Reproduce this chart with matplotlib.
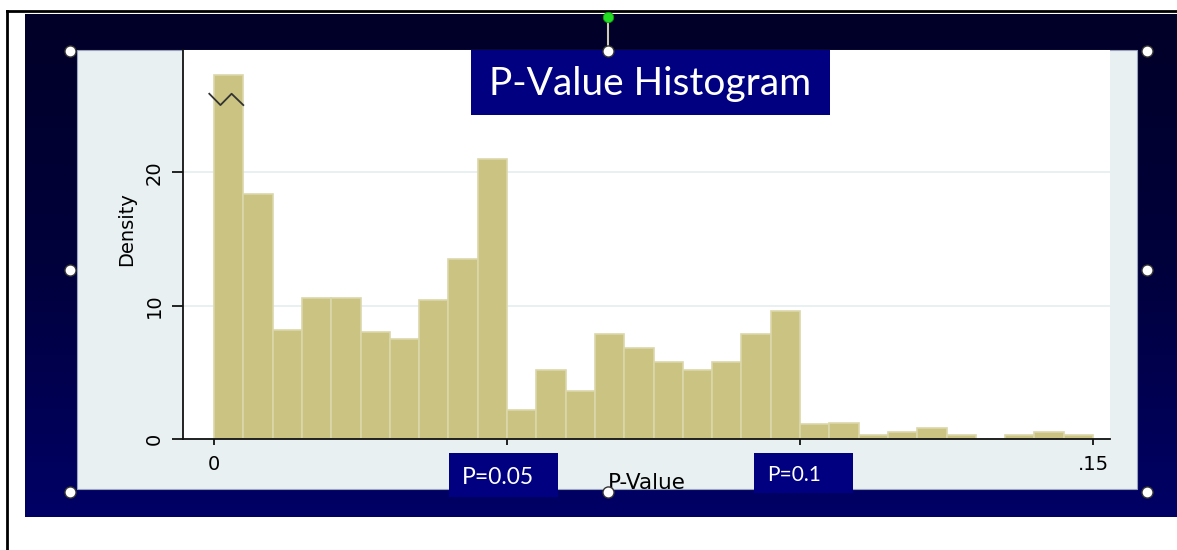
import matplotlib
matplotlib.use("Agg")
import matplotlib.pyplot as plt
import numpy as np
from matplotlib.patches import Rectangle
from matplotlib.colors import LinearSegmentedColormap

W, H = 1177, 550

# histogram of p-values, 30 bins of width .005 from 0 to .15
bin_width = 0.005
bin_left = np.arange(30) * bin_width
density = [27.3, 18.4, 8.2, 10.6, 10.6, 8.0, 7.5, 10.4, 13.5, 21.0,
           2.15, 5.2, 3.6, 7.9, 6.85, 5.8, 5.2, 5.8, 7.9, 9.6,
           1.1, 1.2, 0.27, 0.52, 0.8, 0.27, 0.0, 0.27, 0.52, 0.27]

xticks = [0, 0.05, 0.1, 0.15]
xtick_labels = ["0", "", "", ".15"]   # .05 and .1 sit under the note boxes
yticks = [0, 10, 20]
ytick_labels = ["0", "10", "20"]

# axis-break zigzag drawn over the first bar
break_x = [-0.0008, 0.0011, 0.0030, 0.0050]
break_y = [25.9, 25.05, 25.9, 25.05]

title = "P-Value Histogram"
notes = ["P=0.05", "P=0.1"]

fig = plt.figure(figsize=(W / 100, H / 100), dpi=100)
fig.patch.set_facecolor("white")

# background layer in pixel coordinates
bg = fig.add_axes([0, 0, 1, 1], zorder=0)
bg.set_xlim(0, W)
bg.set_ylim(H, 0)
bg.axis("off")

# slide frame + dark gradient
bg.plot([7, 7], [11, H], color="black", lw=2)
bg.plot([7, W], [11, 11], color="black", lw=2)
grad = np.linspace(0, 1, 256).reshape(-1, 1)
cmap = LinearSegmentedColormap.from_list("slide", ["#000028", "#00003c", "#000066"])
bg.imshow(grad, extent=(25, W, 517, 14), aspect="auto", cmap=cmap, origin="upper")

# stata graph region
bg.add_patch(Rectangle((77, 50), 1060, 439, fc="#e8f0f2", ec="#9aa3bd", lw=0.8))

# plot region
ax_l, ax_r, ax_t, ax_b = 183, 1110, 50, 439
ax = fig.add_axes([ax_l / W, 1 - ax_b / H, (ax_r - ax_l) / W, (ax_b - ax_t) / H], zorder=2)
ax.set_facecolor("white")

ax.bar(bin_left, density, width=bin_width, align="edge",
       color="#cac381", edgecolor="#dcd7aa", linewidth=1.2, zorder=2)
ax.plot(break_x, break_y, color="#333333", lw=1.3, zorder=3)

x0 = (ax_l - 214) / 5860
x1 = (ax_r - 214) / 5860
ax.set_xlim(x0, x1)
ax.set_ylim(0, (ax_b - ax_t) / 13.33)

ax.set_yticks(yticks)
ax.set_yticklabels(ytick_labels, rotation=90, va="center", fontsize=14)
ax.set_xticks(xticks)
ax.set_xticklabels(xtick_labels, fontsize=14)
ax.tick_params(axis="y", length=8, width=1.2, pad=6, colors="black")
ax.tick_params(axis="x", length=4.5, width=1.2, pad=7, colors="black")
ax.grid(axis="y", color="#e6eff1", lw=1.3, zorder=0)
ax.set_axisbelow(True)
for s in ["top", "right"]:
    ax.spines[s].set_visible(False)
for s in ["left", "bottom"]:
    ax.spines[s].set_linewidth(1.3)
    ax.spines[s].set_color("#111111")
ax.spines["bottom"].set_zorder(4)

ax.set_xlabel("P-Value", fontsize=15.5, labelpad=-1)
ax.set_ylabel("Density", fontsize=14)
ax.yaxis.set_label_coords((136 - ax_l) / (ax_r - ax_l), (ax_b - 229) / (ax_b - ax_t))

# overlay: title, note boxes and selection handles
ov = fig.add_axes([0, 0, 1, 1], zorder=5)
ov.set_xlim(0, W)
ov.set_ylim(H, 0)
ov.axis("off")
ov.patch.set_alpha(0)

ov.add_patch(Rectangle((471, 50), 359, 65, fc="#000080", ec="none"))
ov.text(650, 95, title, color="white", fontsize=28, family="Lato",
        ha="center", va="baseline")

ov.add_patch(Rectangle((449, 453), 109, 44, fc="#000080", ec="none"))
ov.text(462, 484, notes[0], color="white", fontsize=16.5, family="Lato", va="baseline")
ov.add_patch(Rectangle((754, 453), 99, 40, fc="#000080", ec="none"))
ov.text(767, 481, notes[1], color="white", fontsize=15, family="Lato", va="baseline")

ov.plot([608, 608], [17, 51], color="#cfcbb0", lw=1.5)
hx = [70, 608, 1147, 70, 1147, 70, 608, 1147]
hy = [51, 51, 51, 270, 270, 492, 492, 492]
ov.plot(hx, hy, "o", ms=8, mfc="white", mec="#333333", mew=1.0, ls="none")
ov.plot([608], [17], "o", ms=7.5, mfc="#22dd22", mec="#119911", mew=0.6)

fig.savefig("out.png", dpi=100, facecolor="white")
